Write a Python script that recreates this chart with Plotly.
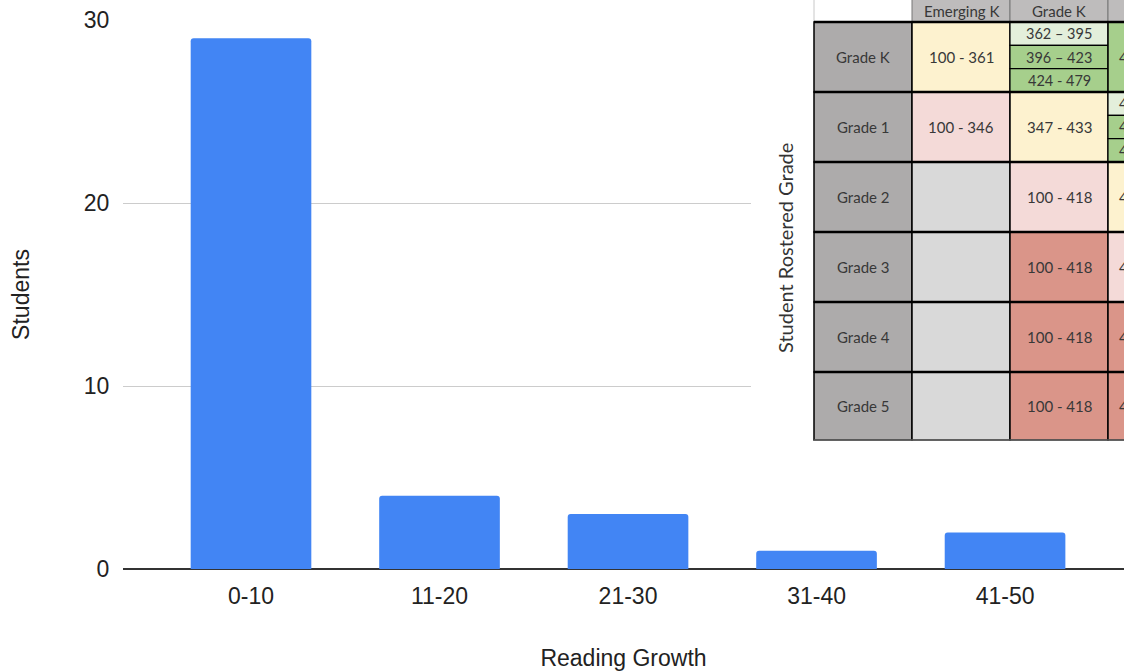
import plotly.graph_objects as go

# ---------------- chart data ----------------
categories = ["0-10", "11-20", "21-30", "31-40", "41-50"]
students = [29, 4, 3, 1, 2]
y_ticks = [0, 10, 20, 30]

# ---------------- inset table data ----------------
row_headers = ["Grade K", "Grade 1", "Grade 2", "Grade 3", "Grade 4", "Grade 5"]
col_headers = ["Emerging K", "Grade K", "Grade 1"]
emerging_k_text = ["100 - 361", "100 - 346", "", "", "", ""]
emerging_k_color = ["#fdf2cf", "#f4dad8", "#d9d9d9", "#d9d9d9", "#d9d9d9", "#d9d9d9"]
grade_k_text = [["362 \u2013 395", "396 \u2013 423", "424 - 479"], ["347 - 433"], ["100 - 418"],
                ["100 - 418"], ["100 - 418"], ["100 - 418"]]
grade_k_color = [["#e3efdb", "#a6cf8c", "#a6cf8c"], ["#fdf2cf"], ["#f4dad8"],
                 ["#da9589"], ["#da9589"], ["#da9589"]]
grade_1_text = [["480 - 560"], ["434 - 455", "456 - 478", "479 - 560"], ["419 - 433"],
                ["419 - 433"], ["419 - 433"], ["419 - 433"]]
grade_1_color = [["#a6cf8c"], ["#e3efdb", "#a6cf8c", "#a6cf8c"], ["#fdf2cf"],
                 ["#f4dad8"], ["#da9589"], ["#da9589"]]
inset_axis_label = "Student Rostered Grade"

# ---------------- layout constants (pixels) ----------------
W, H = 1124, 671
ML, MR, MT, MB = 123, 0, 20, 102
PW, PH = W - ML - MR, H - MT - MB


def px(x):
    return (x - ML) / PW


def py(y):
    return (H - MB - y) / PH


fig = go.Figure()
fig.add_trace(go.Bar(
    x=categories, y=students,
    marker=dict(color="#4285f4", cornerradius=3, line=dict(width=0)),
    width=0.64,
))

shapes = []
annotations = []
TXT = "#383838"
FONT_T = "Lato, Noto Sans, sans-serif"


def rect(x0, y0, x1, y1, fill, lw=0, lc="black"):
    shapes.append(dict(type="rect", xref="paper", yref="paper", layer="above",
                       x0=px(x0), x1=px(x1), y0=py(y1), y1=py(y0),
                       fillcolor=fill, line=dict(width=lw, color=lc)))


def line(x0, y0, x1, y1, lw=1.5, lc="black"):
    shapes.append(dict(type="line", xref="paper", yref="paper", layer="above",
                       x0=px(x0), x1=px(x1), y0=py(y0), y1=py(y1),
                       line=dict(width=lw, color=lc)))


def text(x, y, s, size=15, color=TXT, angle=0, anchor="center"):
    annotations.append(dict(xref="paper", yref="paper", x=px(x), y=py(y), text=s,
                            showarrow=False, xanchor=anchor, yanchor="middle",
                            textangle=angle,
                            font=dict(family=FONT_T, size=size, color=color)))


# white inset background
rect(751, -2, 1130, 443, "white")

cols = [814, 912, 1010, 1108, 1206]
rows = [22, 92, 162, 232, 302, 372, 440]

# header row
rect(cols[0], -2, cols[1], 22, "white")
line(cols[0], -2, cols[0], 22, 1, "#c8c8c8")
for j, h in enumerate(col_headers):
    rect(cols[j + 1], -2, cols[j + 2], 22, "#bebcbc", 1, "#777")
    if j < 2:
        text((cols[j + 1] + cols[j + 2]) / 2, 11, h, size=15)

for i, rh in enumerate(row_headers):
    y0, y1 = rows[i], rows[i + 1]
    rect(cols[0], y0, cols[1], y1, "#adabab", 1.5)
    text((cols[0] + cols[1]) / 2, (y0 + y1) / 2, rh, size=15)
    rect(cols[1], y0, cols[2], y1, emerging_k_color[i], 1.5)
    if emerging_k_text[i]:
        text((cols[1] + cols[2]) / 2, (y0 + y1) / 2, emerging_k_text[i], size=15)
    for c, (texts, colors) in enumerate([(grade_k_text[i], grade_k_color[i]),
                                          (grade_1_text[i], grade_1_color[i])]):
        xa, xb = cols[c + 2], cols[c + 3]
        n = len(texts)
        h = (y1 - y0) / n
        for k in range(n):
            ya, yb = y0 + k * h, y0 + (k + 1) * h
            rect(xa, ya, xb, yb, colors[k], 1.5 if n == 1 else 1.2)
            fs = 15 if n == 1 else 14.5
            if c == 0:
                text((xa + xb) / 2, (ya + yb) / 2, texts[k], size=fs)
            else:
                text(1117, (ya + yb) / 2, texts[k], size=fs, anchor="left")
    # thick row separator
    line(cols[0], y0, 1130, y0, 2.5)
line(cols[0], rows[-1], 1130, rows[-1], 1, "#888")

text(785, 248, inset_axis_label, size=20, color="#333333", angle=-90)

fig.update_layout(
    width=W, height=H,
    margin=dict(l=ML, r=MR, t=MT, b=MB, pad=0),
    paper_bgcolor="white", plot_bgcolor="white",
    showlegend=False,
    bargap=0.36,
    font=dict(family="Liberation Sans, Arial, sans-serif", size=23, color="#222222"),
    xaxis=dict(
        range=[-0.679, 4.631],
        showgrid=False, showline=False, zeroline=False,
        ticks="outside", ticklen=6, tickcolor="rgba(0,0,0,0)",
        tickfont=dict(size=23, color="#222222"),
        title=dict(text="Reading Growth", font=dict(size=23, color="#222222"), standoff=43),
    ),
    yaxis=dict(
        range=[0, 30], tickvals=y_ticks,
        showgrid=True, gridcolor="#cccccc", gridwidth=1,
        zeroline=True, zerolinecolor="#333333", zerolinewidth=1.5,
        showline=False,
        ticks="outside", ticklen=8, tickcolor="rgba(0,0,0,0)",
        tickfont=dict(size=23, color="#222222"),
        title=dict(text="Students", font=dict(size=23, color="#222222"), standoff=47),
    ),
    shapes=shapes,
    annotations=annotations,
)

fig.write_html("out.html", config={"displayModeBar": False},
               post_script="document.body.style.margin='0';document.body.style.overflow='hidden';")
